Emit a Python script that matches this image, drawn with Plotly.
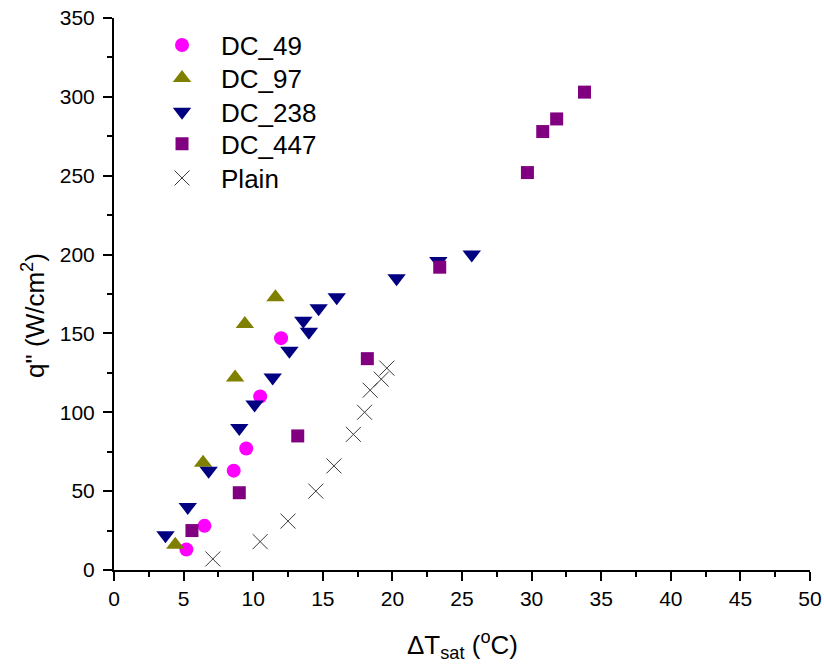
import plotly.graph_objects as go

# Heat flux vs wall superheat for coated (DC_*) and plain surfaces
dc49_dt = [5.2, 6.5, 8.6, 9.5, 10.5, 12.0]
dc49_q = [13, 28, 63, 77, 110, 147]

dc97_dt = [4.4, 6.4, 8.7, 9.4, 11.6]
dc97_q = [16, 68, 122, 156, 173]

dc238_dt = [3.7, 5.3, 6.8, 9.0, 10.1, 11.4, 12.6, 13.6, 14.0, 14.7, 16.0, 20.3, 23.3, 25.7]
dc238_q = [22, 40, 63, 90, 105, 122, 139, 158, 151, 166, 173, 185, 196, 200]

dc447_dt = [5.6, 9.0, 13.2, 18.2, 23.4, 29.7, 30.8, 31.8, 33.8]
dc447_q = [25, 49, 85, 134, 192, 252, 278, 286, 303]

plain_dt = [7.1, 10.5, 12.5, 14.5, 15.8, 17.2, 18.0, 18.4, 19.2, 19.6]
plain_q = [7, 18, 31, 50, 66, 86, 100, 114, 121, 128]

FONT = "Liberation Sans, Arial, sans-serif"

series = [
    ("DC_49", dc49_dt, dc49_q, dict(symbol="circle", size=14, color="#FF00FF")),
    ("DC_97", dc97_dt, dc97_q, dict(symbol="triangle-up", size=16, color="#808000")),
    ("DC_238", dc238_dt, dc238_q, dict(symbol="triangle-down", size=16, color="#000080")),
    ("DC_447", dc447_dt, dc447_q, dict(symbol="square", size=13, color="#800080")),
    ("Plain", plain_dt, plain_q, dict(symbol="x-thin-open", size=15, color="#3a3a3a",
                                      line=dict(color="#3a3a3a", width=1))),
]

# one legend box per series so each row sits at a fixed height
legend_rows = [0.951, 0.891, 0.830, 0.772, 0.710]

fig = go.Figure()
legend_layouts = {}
for i, (name, xs, ys, mk) in enumerate(series):
    key = "legend" if i == 0 else f"legend{i + 1}"
    fig.add_trace(go.Scatter(x=xs, y=ys, mode="markers", name=name, marker=mk,
                             legend=key))
    legend_layouts[key] = dict(
        x=0.0417, y=legend_rows[i], xanchor="left", yanchor="middle",
        font=dict(family=FONT, size=26, color="black"),
        bgcolor="rgba(0,0,0,0)", itemwidth=68, borderwidth=0,
    )

axis_common = dict(
    showline=True, linecolor="black", linewidth=2,
    ticks="outside", ticklen=9, tickwidth=2, tickcolor="black",
    showgrid=False, zeroline=False, mirror=False, automargin=False,
    tickfont=dict(family=FONT, size=21, color="black"),
)

fig.update_xaxes(
    range=[0, 50], dtick=5, tick0=0,
    minor=dict(ticks="outside", ticklen=5, tickwidth=2, tickcolor="black", dtick=2.5),
    **axis_common,
)
fig.update_yaxes(
    range=[0, 350], dtick=50, tick0=0, ticklabelstandoff=4,
    minor=dict(ticks="outside", ticklen=5, tickwidth=2, tickcolor="black", dtick=25),
    **axis_common,
)

fig.update_layout(
    width=824, height=666,
    margin=dict(l=114, r=14, t=18, b=96),
    paper_bgcolor="white", plot_bgcolor="white",
    font=dict(family=FONT, color="black"),
    showlegend=True,
    annotations=[
        dict(text="ΔT<sub>sat</sub> (<sup>o</sup>C)", xref="paper", yref="paper",
             x=0.5, y=-0.135, xanchor="center", yanchor="middle", showarrow=False,
             font=dict(family=FONT, size=26, color="black")),
        dict(text='q" (W/cm<sup>2</sup>)', xref="paper", yref="paper",
             x=-0.115, y=0.462, xanchor="center", yanchor="middle", showarrow=False,
             textangle=-90, font=dict(family=FONT, size=26, color="black")),
    ],
    **legend_layouts,
)

fig.write_html("out.html")
